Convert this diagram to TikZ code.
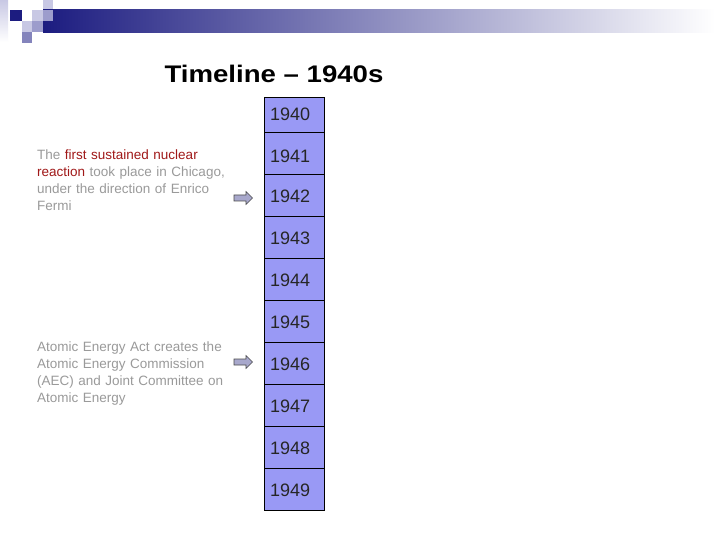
\documentclass[tikz,border=0pt]{standalone}
\usepackage{fontspec}
\setmainfont{Liberation Sans}
\definecolor{navy}{HTML}{1C1C80}
\definecolor{lavbox}{HTML}{9999F5}
\definecolor{grtext}{HTML}{9A9A9A}
\definecolor{redtext}{HTML}{A01818}
\definecolor{sqlight}{HTML}{C8C8E4}
\definecolor{sqmid}{HTML}{9C9CCC}
\definecolor{sqdark}{HTML}{8484BC}
\definecolor{arrowfill}{HTML}{A8A8CC}
\tikzset{
  yearbox/.style={draw=black, fill=lavbox, line width=0.8pt},
  yeartext/.style={anchor=west, inner sep=0pt, font=\fontsize{18}{20}\selectfont, text=black!85},
  eventtext/.style={anchor=north west, inner sep=0pt, align=left, text width=210pt,
    font=\fontsize{13.5}{17}\selectfont, text=grtext},
  pointer/.style={draw=black!70, fill=arrowfill, line width=0.6pt},
}
\begin{document}
\begin{tikzpicture}[x=1pt,y=-1pt]
\useasboundingbox (0,0) rectangle (720,540);
\fill[white] (0,0) rectangle (720,540);
% header logo
\fill[top color=sqlight, bottom color=white] (0,0) rectangle (8,42);
\fill[sqlight] (43,0) rectangle (53,10);
\fill[left color=navy, right color=white] (43,10) rectangle (715,33);
\fill[navy] (10,10) rectangle (22,21);
\fill[sqlight] (32,10) rectangle (43,21);
\fill[sqmid] (43,10) rectangle (53,21);
\fill[sqlight] (22,21) rectangle (32,32);
\fill[sqmid] (32,21) rectangle (43,32);
\fill[sqdark] (22,32) rectangle (32,43);
% title
\node[font=\fontsize{24}{28}\selectfont\bfseries, inner sep=0pt] (title) at (274,74) {\scalebox{1.15}[1]{Timeline -- 1940s}};
% year column
\node[yearbox, minimum width=60pt, minimum height=35pt, inner sep=0pt, anchor=north west] (b0) at (264,97) {};
\foreach \i/\y in {1/132,2/174,3/216,4/258,5/300,6/342,7/384,8/426,9/468}{
  \node[yearbox, minimum width=60pt, minimum height=42pt, inner sep=0pt, anchor=north west] (b\i) at (264,\y) {};
}
\foreach \i/\y in {0/114,1/156,2/196,3/238,4/280,5/322,6/364,7/406,8/448,9/490}{
  \node[yeartext] (y\i) at (270,\y) {194\i};
}
% events
\node[eventtext] (e1) at (37,150) {The \textcolor{redtext}{first sustained nuclear}\\\textcolor{redtext}{reaction} took place in Chicago,\\under the direction of Enrico\\Fermi};
\node[eventtext] (e2) at (37,342) {Atomic Energy Act creates the\\Atomic Energy Commission\\(AEC) and Joint Committee on\\Atomic Energy};
% pointers
\coordinate (a1) at (234,198);
\coordinate (a2) at (234,362);
\foreach \a in {a1,a2}{
  \draw[pointer] ([yshift=3pt]\a) -- ++(12,0) -- ++(0,-3.5) -- ++(6.5,6.5) -- ++(-6.5,6.5) -- ++(0,-3.5) -- ++(-12,0) -- cycle;
}
\end{tikzpicture}
\end{document}
